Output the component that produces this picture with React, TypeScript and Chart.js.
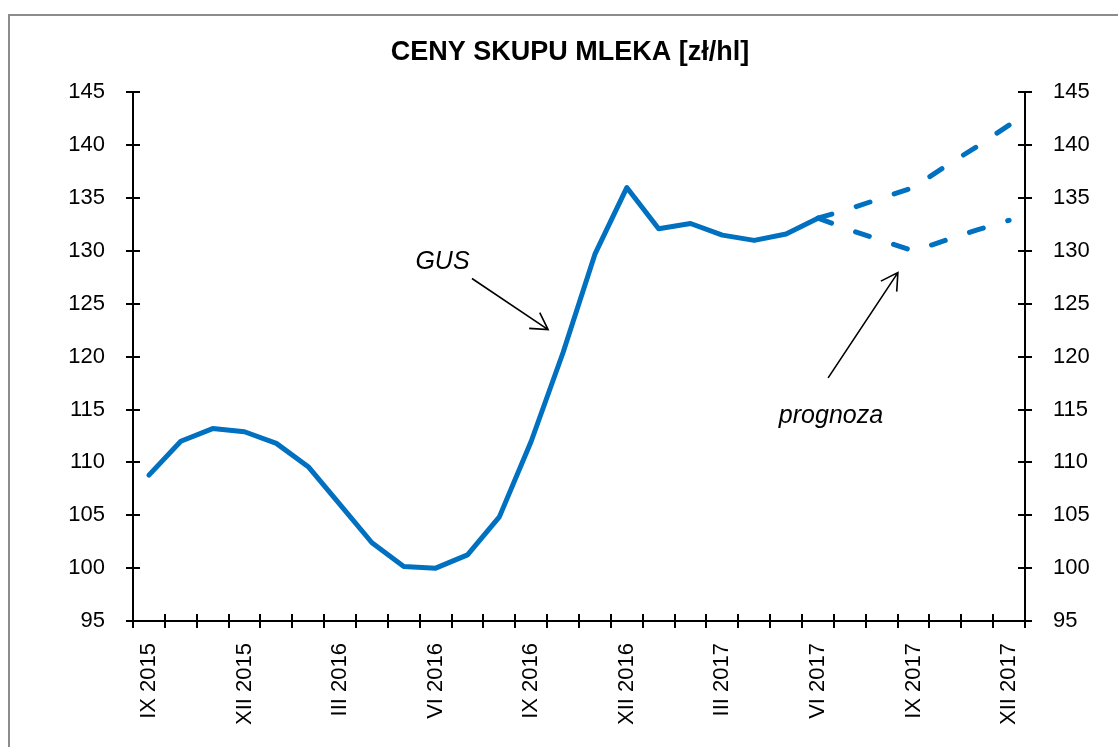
import { useEffect, useRef } from 'react';
import { Chart, registerables } from 'chart.js';

Chart.register(...registerables);

const months = [
  'IX 2015', 'X 2015', 'XI 2015', 'XII 2015',
  'I 2016', 'II 2016', 'III 2016', 'IV 2016', 'V 2016', 'VI 2016',
  'VII 2016', 'VIII 2016', 'IX 2016', 'X 2016', 'XI 2016', 'XII 2016',
  'I 2017', 'II 2017', 'III 2017', 'IV 2017', 'V 2017', 'VI 2017',
  'VII 2017', 'VIII 2017', 'IX 2017', 'X 2017', 'XI 2017', 'XII 2017',
];

// GUS actual prices, IX 2015 .. VI 2017
const gusValues = [
  108.8, 112.0, 113.2, 112.9, 111.8, 109.6, 106.0, 102.4, 100.15, 100.0,
  101.25, 104.85, 112.0, 120.4, 129.7, 136.0, 132.1, 132.6, 131.5, 131.0,
  131.6, 133.1,
];

// forecasts, VI 2017 .. XII 2017
const forecastHigh = [133.1, 134.0, 135.0, 136.0, 138.0, 139.9, 141.9];
const forecastLow = [133.1, 132.0, 131.0, 130.0, 131.0, 132.0, 132.9];

const forecastStart = 21;
const labelEvery = 3;

const yMin = 95;
const yMax = 145;
const yStep = 5;

const annotations = [
  { text: 'GUS', tx: 9.215, ty: 129.0, from: [10.14, 127.4], to: [12.53, 122.56] },
  { text: 'prognoza', tx: 21.41, ty: 114.4, from: [21.32, 118.0], to: [23.51, 127.95] },
];

const BLUE = '#0070C0';
const FONT = "'Liberation Sans', Arial, sans-serif";

const framePlugin = {
  id: 'frame',
  beforeDraw(chart: any) {
    const { ctx, width, height } = chart;
    ctx.save();
    ctx.fillStyle = '#ffffff';
    ctx.fillRect(0, 0, width, height);
    ctx.strokeStyle = '#8c8c8c';
    ctx.lineWidth = 2;
    ctx.strokeRect(9, 15, width + 200, height + 200);
    ctx.restore();
  },
};

const axesPlugin = {
  id: 'crossAxes',
  beforeDatasetsDraw(chart: any) {
    const { ctx, chartArea, scales } = chart;
    const { left, right, top, bottom } = chartArea;
    const x = scales.x;
    const y = scales.y;
    const t = 7;
    ctx.save();
    ctx.strokeStyle = '#000';
    ctx.lineWidth = 2;
    ctx.beginPath();
    ctx.moveTo(left, top);
    ctx.lineTo(left, bottom);
    ctx.lineTo(right, bottom);
    ctx.lineTo(right, top);
    y.ticks.forEach((tk: any) => {
      const py = Math.round(y.getPixelForValue(tk.value));
      ctx.moveTo(left - t, py);
      ctx.lineTo(left + t, py);
      ctx.moveTo(right - t, py);
      ctx.lineTo(right + t, py);
    });
    for (let i = 0; i <= months.length; i++) {
      const px = Math.round(x.getPixelForValue(i - 0.5));
      ctx.moveTo(px, bottom - t);
      ctx.lineTo(px, bottom + t);
    }
    ctx.stroke();
    ctx.restore();
  },
};

const notesPlugin = {
  id: 'notes',
  afterDatasetsDraw(chart: any) {
    const { ctx, scales } = chart;
    const x = scales.x;
    const y = scales.y;
    ctx.save();
    ctx.fillStyle = '#000';
    ctx.strokeStyle = '#000';
    ctx.lineWidth = 1.6;
    ctx.font = `italic 25px ${FONT}`;
    ctx.textAlign = 'center';
    ctx.textBaseline = 'middle';
    annotations.forEach((a) => {
      ctx.fillText(a.text, x.getPixelForValue(a.tx), y.getPixelForValue(a.ty));
      const x1 = x.getPixelForValue(a.from[0]);
      const y1 = y.getPixelForValue(a.from[1]);
      const x2 = x.getPixelForValue(a.to[0]);
      const y2 = y.getPixelForValue(a.to[1]);
      const ang = Math.atan2(y2 - y1, x2 - x1);
      const hl = 19;
      const ha = Math.PI / 6;
      ctx.beginPath();
      ctx.moveTo(x1, y1);
      ctx.lineTo(x2, y2);
      ctx.moveTo(x2 - hl * Math.cos(ang - ha), y2 - hl * Math.sin(ang - ha));
      ctx.lineTo(x2, y2);
      ctx.lineTo(x2 - hl * Math.cos(ang + ha), y2 - hl * Math.sin(ang + ha));
      ctx.stroke();
    });
    ctx.restore();
  },
};

export default function App() {
  const ref = useRef<HTMLCanvasElement | null>(null);

  useEffect(() => {
    if (!ref.current) return;
    const pad = (n: number) => Array(n).fill(null);
    const solid = [...gusValues, ...pad(months.length - gusValues.length)];
    const high = [...pad(forecastStart), ...forecastHigh];
    const low = [...pad(forecastStart), ...forecastLow];

    const lineCommon = {
      borderColor: BLUE,
      borderWidth: 5,
      pointRadius: 0,
      pointHoverRadius: 0,
      tension: 0,
      fill: false,
      borderCapStyle: 'round' as const,
      borderJoinStyle: 'round' as const,
      spanGaps: false,
    };

    const chart = new Chart(ref.current, {
      type: 'line',
      data: {
        labels: months,
        datasets: [
          { ...lineCommon, label: 'GUS', data: solid },
          { ...lineCommon, label: 'prognoza wysoka', data: high, borderDash: [14.5, 25.5] },
          { ...lineCommon, label: 'prognoza niska', data: low, borderDash: [14.5, 25.5] },
        ],
      },
      options: {
        responsive: false,
        animation: false,
        events: [],
        layout: { padding: { left: 22, right: 0, top: 36, bottom: 0 } },
        plugins: {
          legend: { display: false },
          tooltip: { enabled: false },
          title: {
            display: true,
            text: 'CENY SKUPU MLEKA [zł/hl]',
            color: '#000',
            font: { family: FONT, size: 27, weight: 'bold', lineHeight: 1.2 },
            padding: { top: 0, bottom: 24 },
          },
        },
        scales: {
          x: {
            type: 'category',
            offset: true,
            grid: { display: false, offset: true },
            border: { display: false },
            ticks: {
              autoSkip: false,
              maxRotation: 90,
              minRotation: 90,
              padding: 14,
              color: '#000',
              font: { family: FONT, size: 22 },
              callback: (_v: any, i: number) => (i % labelEvery === 0 ? months[i] : ''),
            },
            afterFit: (s: any) => { s.height = 126; },
          },
          y: {
            position: 'left',
            min: yMin,
            max: yMax,
            grid: { display: false },
            border: { display: false },
            ticks: { stepSize: yStep, padding: 20, color: '#000', font: { family: FONT, size: 22 } },
            afterFit: (s: any) => { s.width = 111; },
          },
          y2: {
            position: 'right',
            min: yMin,
            max: yMax,
            grid: { display: false },
            border: { display: false },
            ticks: { stepSize: yStep, padding: 20, color: '#000', font: { family: FONT, size: 22 } },
            afterFit: (s: any) => { s.width = 93; },
          },
        },
      },
      plugins: [framePlugin, axesPlugin, notesPlugin],
    });

    return () => chart.destroy();
  }, []);

  return (
    <div style={{ position: 'fixed', left: 0, top: 0, width: 1118, height: 747 }}>
      <canvas ref={ref} width={1118} height={747} style={{ display: 'block', width: 1118, height: 747 }} />
    </div>
  );
}
